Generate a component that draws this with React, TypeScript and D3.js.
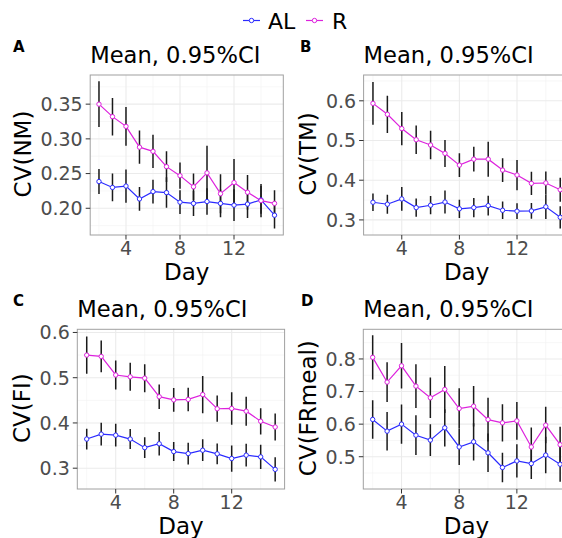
import * as d3 from 'd3';
import React from 'react';

// days on the x axis
const days = [2, 3, 4, 5, 6, 7, 8, 9, 10, 11, 12, 13, 14, 15];

// panel A: CV(NM)
const nmAL = [0.2385, 0.230, 0.232, 0.2135, 0.224, 0.2226, 0.2088, 0.207, 0.2097, 0.207, 0.2045, 0.206, 0.212, 0.190];
const nmALci = [0.018, 0.020, 0.024, 0.017, 0.017, 0.022, 0.017, 0.018, 0.019, 0.020, 0.023, 0.020, 0.020, 0.019];
const nmR = [0.350, 0.332, 0.318, 0.288, 0.282, 0.260, 0.247, 0.231, 0.251, 0.221, 0.237, 0.223, 0.211, 0.207];
const nmRci = [0.033, 0.027, 0.028, 0.024, 0.024, 0.022, 0.019, 0.019, 0.039, 0.028, 0.034, 0.025, 0.024, 0.019];

// panel B: CV(TM)
const tmAL = [0.3445, 0.3395, 0.3528, 0.331, 0.337, 0.345, 0.328, 0.331, 0.336, 0.3243, 0.322, 0.3227, 0.333, 0.3066];
const tmALci = [0.022, 0.024, 0.030, 0.023, 0.023, 0.029, 0.023, 0.024, 0.025, 0.022, 0.020, 0.020, 0.031, 0.028];
const tmR = [0.5935, 0.566, 0.530, 0.502, 0.4886, 0.4675, 0.438, 0.453, 0.453, 0.4255, 0.413, 0.392, 0.393, 0.376];
const tmRci = [0.054, 0.047, 0.042, 0.036, 0.036, 0.034, 0.030, 0.031, 0.044, 0.030, 0.038, 0.029, 0.029, 0.030];

// panel C: CV(FI)
const fiAL = [0.3644, 0.3753, 0.373, 0.3644, 0.3454, 0.354, 0.3367, 0.3323, 0.3397, 0.3317, 0.3214, 0.3288, 0.325, 0.2974];
const fiALci = [0.023, 0.025, 0.025, 0.022, 0.023, 0.026, 0.021, 0.024, 0.024, 0.023, 0.029, 0.025, 0.027, 0.027];
const fiR = [0.550, 0.547, 0.506, 0.502, 0.499, 0.458, 0.451, 0.452, 0.4627, 0.4314, 0.432, 0.426, 0.4037, 0.391];
const fiRci = [0.041, 0.035, 0.032, 0.031, 0.031, 0.027, 0.026, 0.026, 0.041, 0.029, 0.036, 0.032, 0.029, 0.030];

// panel D: CV(FRmeal)
const frAL = [0.6144, 0.5785, 0.600, 0.566, 0.551, 0.5887, 0.530, 0.5457, 0.512, 0.467, 0.487, 0.479, 0.505, 0.477];
const frALci = [0.059, 0.059, 0.060, 0.061, 0.049, 0.057, 0.055, 0.057, 0.059, 0.045, 0.051, 0.047, 0.056, 0.054];
const frR = [0.805, 0.729, 0.779, 0.7167, 0.681, 0.7065, 0.648, 0.655, 0.614, 0.604, 0.610, 0.530, 0.597, 0.537];
const frRci = [0.068, 0.061, 0.070, 0.067, 0.062, 0.072, 0.062, 0.062, 0.067, 0.057, 0.058, 0.060, 0.056, 0.055];

const xTicks = [4, 8, 12];
const xMinor = [2, 6, 10, 14];
const groups = ['AL', 'R'];
const colors = { AL: '#2b2bff', R: '#dd22dd' };

const FONT = '"DejaVu Sans", sans-serif';

const panels = [
  {
    tag: 'A', ylab: 'CV(NM)', al: nmAL, alCi: nmALci, r: nmR, rCi: nmRci,
    yDomain: [0.1615, 0.392], yTicks: [0.2, 0.25, 0.3, 0.35], fmt: '.2f',
    x0: 90.2, x1: 283.3, y0: 235, y1: 75, tagX: 13, ylabX: 31,
  },
  {
    tag: 'B', ylab: 'CV(TM)', al: tmAL, alCi: tmALci, r: tmR, rCi: tmRci,
    yDomain: [0.262, 0.665], yTicks: [0.3, 0.4, 0.5, 0.6], fmt: '.1f',
    x0: 363.6, x1: 569.6, y0: 235, y1: 75, tagX: 300, ylabX: 316,
  },
  {
    tag: 'C', ylab: 'CV(FI)', al: fiAL, alCi: fiALci, r: fiR, rCi: fiRci,
    yDomain: [0.254, 0.607], yTicks: [0.3, 0.4, 0.5, 0.6], fmt: '.1f',
    x0: 77.3, x1: 284.6, y0: 489, y1: 329.3, tagX: 13, ylabX: 30,
  },
  {
    tag: 'D', ylab: 'CV(FRmeal)', al: frAL, alCi: frALci, r: frR, rCi: frRci,
    yDomain: [0.401, 0.891], yTicks: [0.5, 0.6, 0.7, 0.8], fmt: '.1f',
    x0: 363.3, x1: 569.5, y0: 489, y1: 329.3, tagX: 301, ylabX: 316,
  },
];

const Panel = ({ p }) => {
  const x = d3.scaleLinear().domain([1.35, 15.65]).range([p.x0, p.x1]);
  const y = d3.scaleLinear().domain(p.yDomain).range([p.y0, p.y1]);
  const step = p.yTicks[1] - p.yTicks[0];
  const yMinor = [p.yTicks[0] - step / 2, ...p.yTicks.map(t => t + step / 2)]
    .filter(v => v > p.yDomain[0] && v < p.yDomain[1]);
  const fmt = d3.format(p.fmt);
  const line = d3.line().x((d, i) => x(days[i])).y(d => y(d));
  const series = [
    { key: 'AL', vals: p.al, ci: p.alCi },
    { key: 'R', vals: p.r, ci: p.rCi },
  ];
  const cx = (p.x0 + p.x1) / 2;
  const cy = (p.y0 + p.y1) / 2;
  const clipId = `clip-${p.tag}`;

  return (
    <g>
      <defs>
        <clipPath id={clipId}>
          <rect x={p.x0} y={p.y1} width={p.x1 - p.x0} height={p.y0 - p.y1} />
        </clipPath>
      </defs>
      <rect x={p.x0} y={p.y1} width={p.x1 - p.x0} height={p.y0 - p.y1} fill="white" />
      {/* grid */}
      {xMinor.map(t => (
        <line key={'xm' + t} x1={x(t)} x2={x(t)} y1={p.y0} y2={p.y1} stroke="#f2f2f2" strokeWidth={0.6} />
      ))}
      {yMinor.map(t => (
        <line key={'ym' + t} x1={p.x0} x2={p.x1} y1={y(t)} y2={y(t)} stroke="#f2f2f2" strokeWidth={0.6} />
      ))}
      {xTicks.map(t => (
        <line key={'x' + t} x1={x(t)} x2={x(t)} y1={p.y0} y2={p.y1} stroke="#ebebeb" strokeWidth={1.1} />
      ))}
      {p.yTicks.map(t => (
        <line key={'y' + t} x1={p.x0} x2={p.x1} y1={y(t)} y2={y(t)} stroke="#ebebeb" strokeWidth={1.1} />
      ))}

      <g clipPath={`url(#${clipId})`}>
        {series.map(s => s.vals.map((v, i) => (
          <line key={s.key + 'e' + i} x1={x(days[i])} x2={x(days[i])}
            y1={y(v - s.ci[i])} y2={y(v + s.ci[i])} stroke="#1a1a1a" strokeWidth={1.5} />
        )))}
        {series.map(s => (
          <path key={s.key + 'l'} d={line(s.vals)} fill="none" stroke={colors[s.key]} strokeWidth={1.2} />
        ))}
        {series.map(s => s.vals.map((v, i) => (
          <circle key={s.key + 'p' + i} cx={x(days[i])} cy={y(v)} r={2.2}
            fill="white" stroke={colors[s.key]} strokeWidth={1} />
        )))}
      </g>

      <rect x={p.x0} y={p.y1} width={p.x1 - p.x0} height={p.y0 - p.y1} fill="none" stroke="#a0a0a0" strokeWidth={1} />

      {/* y axis */}
      {p.yTicks.map(t => (
        <g key={'yl' + t}>
          <line x1={p.x0 - 4.5} x2={p.x0} y1={y(t)} y2={y(t)} stroke="#333" strokeWidth={1} />
          <text x={p.x0 - 7.5} y={y(t)} dy="0.36em" textAnchor="end" fontSize={19} fill="#4d4d4d" fontFamily={FONT}>
            {fmt(t)}
          </text>
        </g>
      ))}
      {/* x axis */}
      {xTicks.map(t => (
        <g key={'xl' + t}>
          <line x1={x(t)} x2={x(t)} y1={p.y0} y2={p.y0 + 4.5} stroke="#333" strokeWidth={1} />
          <text x={x(t)} y={p.y0 + 19.5} textAnchor="middle" fontSize={19} fill="#4d4d4d" fontFamily={FONT}>
            {t}
          </text>
        </g>
      ))}
      <text x={cx} y={p.y0 + 45} textAnchor="middle" fontSize={23} fill="black" fontFamily={FONT}>Day</text>
      <text transform={`translate(${p.ylabX},${cy - 1}) rotate(-90)`} textAnchor="middle" fontSize={23} fill="black" fontFamily={FONT}>
        {p.ylab}
      </text>
      <text x={p.x0} y={p.y1 - 12.4} fontSize={22.6} fill="black" fontFamily={FONT}>Mean, 0.95%CI</text>
      <text x={p.tagX} y={p.y1 - 23} fontSize={15} fontWeight="bold" fill="black" fontFamily={FONT}>{p.tag}</text>
    </g>
  );
};

const Legend = () => {
  const keyX = d3.scaleOrdinal().domain(groups).range([243, 306]);
  return (
    <g>
      {groups.map(g => (
        <g key={g} transform={`translate(${keyX(g)},20.5)`}>
          <line x1={0} x2={17} y1={0} y2={0} stroke={colors[g]} strokeWidth={1.2} />
          <circle cx={8.5} cy={0} r={2.2} fill="white" stroke={colors[g]} strokeWidth={1} />
          <text x={g === 'AL' ? 25 : 26} y={8} fontSize={22} fill="black" fontFamily={FONT}>{g}</text>
        </g>
      ))}
    </g>
  );
};

export default function App() {
  return (
    <svg width={562} height={538} style={{ position: 'absolute', left: 0, top: 0, background: 'white' }}>
      <rect width={562} height={538} fill="white" />
      <Legend />
      {panels.map(p => <Panel key={p.tag} p={p} />)}
    </svg>
  );
}
